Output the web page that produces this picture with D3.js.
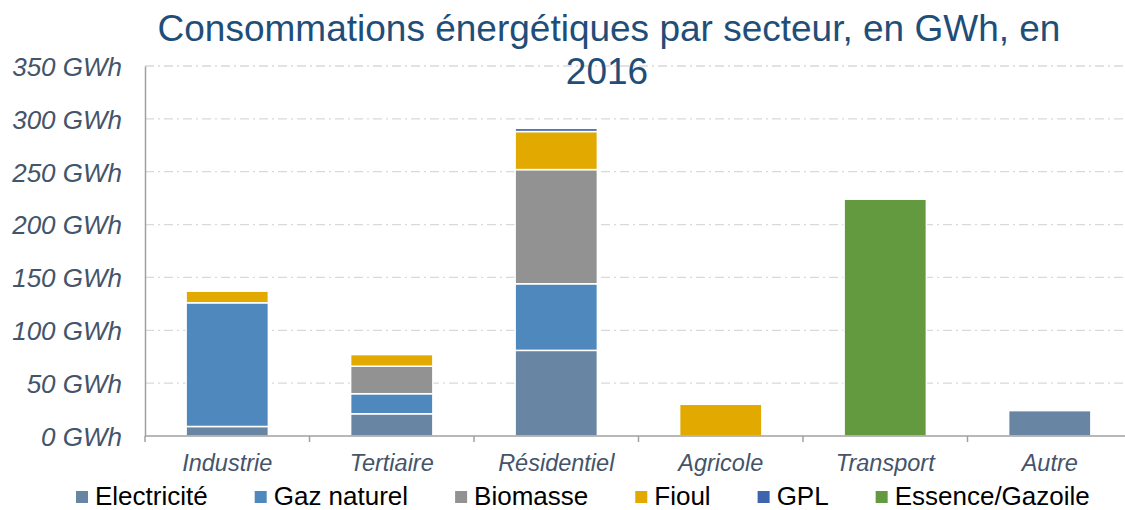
<!DOCTYPE html>
<html>
<head>
<meta charset="utf-8">
<script src="https://cdn.jsdelivr.net/npm/d3@7"></script>
<style>
  html, body { margin: 0; padding: 0; background: #fff; }
  svg { display: block; font-family: "Liberation Sans", Arial, sans-serif; }
</style>
</head>
<body>
<svg id="chart" width="1125" height="510"></svg>
<script>
  // Sectors and energy carriers, GWh
  var categories = ['Industrie', 'Tertiaire', 'Résidentiel', 'Agricole', 'Transport', 'Autre'];
  var electricite = [9, 21, 81, 0, 0, 24];
  var gazNaturel  = [117, 19, 63, 0, 0, 0];
  var biomasse    = [0, 26, 108, 0, 0, 0];
  var fioul       = [11, 11, 36, 30, 0, 0];
  var gpl         = [0, 0, 3, 0, 0, 0];
  var essence     = [0, 0, 0, 0, 224, 0];
  var yTicks = [0, 50, 100, 150, 200, 250, 300, 350];

  var series = [
    { key: 'Electricité', values: electricite, color: '#6886a4' },
    { key: 'Gaz naturel', values: gazNaturel, color: '#4f88bd' },
    { key: 'Biomasse', values: biomasse, color: '#929292' },
    { key: 'Fioul', values: fioul, color: '#e2aa00' },
    { key: 'GPL', values: gpl, color: '#3e64ae' },
    { key: 'Essence/Gazoile', values: essence, color: '#639a3f' }
  ];

  (function () {
    var svg = d3.select('#chart');
    var m = { left: 145, right: 1132, top: 66, bottom: 436 };
    var textCol = '#44546a';
    var axisCol = '#a0a0a0';

    var x = d3.scaleBand().domain(categories).range([m.left, m.right])
      .paddingInner(0.5).paddingOuter(0.25);
    var y = d3.scaleLinear().domain([0, 350]).range([m.bottom, m.top]);

    // table for the stack
    var rows = categories.map(function (c, i) {
      var r = { cat: c };
      series.forEach(function (s) { r[s.key] = s.values[i]; });
      return r;
    });
    var stacked = d3.stack().keys(series.map(function (s) { return s.key; }))(rows);

    // gridlines (dash-dot)
    svg.append('g').selectAll('line').data(yTicks.slice(1)).enter().append('line')
      .attr('x1', m.left).attr('x2', 1125)
      .attr('y1', function (d) { return y(d); }).attr('y2', function (d) { return y(d); })
      .attr('stroke', '#d9d9d9').attr('stroke-width', 1.3)
      .attr('stroke-dasharray', '9,4,2,4');

    // bars
    var colorOf = {};
    series.forEach(function (s) { colorOf[s.key] = s.color; });
    svg.append('g').selectAll('g').data(stacked).enter().append('g')
      .attr('fill', function (d) { return colorOf[d.key]; })
      .selectAll('rect').data(function (d) { return d.filter(function (p) { return p[1] > p[0]; }); })
      .enter().append('rect')
      .attr('x', function (d) { return x(d.data.cat); })
      .attr('width', x.bandwidth())
      .attr('y', function (d) { return y(d[1]); })
      .attr('height', function (d) { return y(d[0]) - y(d[1]); })
      .attr('stroke', '#fff').attr('stroke-width', 1.5);

    // y axis
    var yAxis = svg.append('g').attr('transform', 'translate(' + m.left + ',0)')
      .call(d3.axisLeft(y).tickValues(yTicks).tickSize(0).tickPadding(23)
        .tickFormat(function (d) { return d + ' GWh'; }));
    yAxis.select('.domain').attr('stroke', axisCol).attr('stroke-width', 1.5);
    yAxis.selectAll('text').attr('fill', textCol).style('font-size', '26px')
      .style('font-style', 'italic').attr('dy', '0.36em');

    // x axis
    var xAxis = svg.append('g').attr('transform', 'translate(0,' + m.bottom + ')')
      .call(d3.axisBottom(x).tickSize(0).tickPadding(18));
    xAxis.select('.domain').remove();
    xAxis.append('line').attr('x1', m.left).attr('x2', 1125).attr('y1', 0).attr('y2', 0)
      .attr('stroke', axisCol).attr('stroke-width', 1.5);
    xAxis.selectAll('text').attr('fill', textCol).style('font-size', '23.5px')
      .style('font-style', 'italic');
    var step = x.step();
    d3.range(categories.length + 1).forEach(function (i) {
      var tx = m.left + i * step;
      xAxis.append('line').attr('x1', tx).attr('x2', tx).attr('y1', 0).attr('y2', 6)
        .attr('stroke', axisCol).attr('stroke-width', 1.5);
    });

    // title
    var title = svg.append('text').attr('x', 609).attr('y', 41)
      .attr('text-anchor', 'middle').attr('fill', '#1f4e79').style('font-size', '37px');
    title.append('tspan').attr('x', 609).text('Consommations énergétiques par secteur, en GWh, en');
    title.append('tspan').attr('x', 607).attr('dy', 43).text('2016');

    // legend
    var lx = 76;
    var legend = svg.append('g');
    series.forEach(function (s) {
      legend.append('rect').attr('x', lx).attr('y', 491).attr('width', 12).attr('height', 12)
        .attr('fill', s.color);
      var t = legend.append('text').attr('x', lx + 19).attr('y', 505)
        .attr('fill', '#000').style('font-size', '26px').text(s.key);
      lx += 19 + t.node().getComputedTextLength() + 47;
    });
  })();
</script>
</body>
</html>
